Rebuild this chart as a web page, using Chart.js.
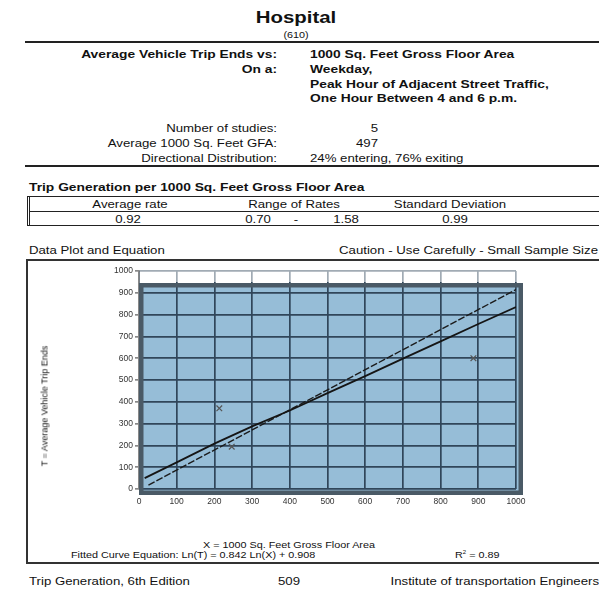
<!DOCTYPE html>
<html>
<head>
<meta charset="utf-8">
<script src="https://cdn.jsdelivr.net/npm/chart.js@4.4.0/dist/chart.umd.min.js"></script>
<style>
  html, body { margin:0; padding:0; background:#fff; }
  body { width:599px; height:597px; overflow:hidden; position:relative; font-family:"Liberation Sans", Arial, sans-serif; color:#111; }
  .t { position:absolute; white-space:nowrap; line-height:1; transform:translateY(-50%) scaleX(1.2); transform-origin:left center; }
  .b { font-weight:bold; }
  .r { text-align:right; left:0; transform-origin:right center; }
  .c { text-align:center; transform-origin:center center; }
  .hl { position:absolute; background:#222; }
  #chartWrap { position:absolute; left:29px; top:262px; width:566px; height:250px; }
</style>
</head>
<body>
<div class="t b c" style="left:96px;width:400px;top:17px;font-size:17px;">Hospital</div>
<div class="t c" style="left:96px;width:400px;top:35px;font-size:9px;">(610)</div>
<div class="hl" style="left:25px;top:41px;width:574px;height:2px;"></div>

<div class="t b r" style="width:277px;top:55px;font-size:11.5px;">Average Vehicle Trip Ends vs:</div>
<div class="t b" style="left:310px;top:55px;font-size:11.5px;">1000 Sq. Feet Gross Floor Area</div>
<div class="t b r" style="width:277px;top:70px;font-size:11.5px;">On a:</div>
<div class="t b" style="left:310px;top:70px;font-size:11.5px;">Weekday,</div>
<div class="t b" style="left:310px;top:85px;font-size:11.5px;">Peak Hour of Adjacent Street Traffic,</div>
<div class="t b" style="left:310px;top:99px;font-size:11.5px;">One Hour Between 4 and 6 p.m.</div>

<div class="t r" style="width:277px;top:128px;font-size:11px;">Number of studies:</div>
<div class="t r" style="width:378px;top:128px;font-size:11px;">5</div>
<div class="t r" style="width:277px;top:143px;font-size:11px;">Average 1000 Sq. Feet GFA:</div>
<div class="t r" style="width:378px;top:143px;font-size:11px;">497</div>
<div class="t r" style="width:277px;top:158px;font-size:11px;">Directional Distribution:</div>
<div class="t" style="left:310px;top:158px;font-size:11px;">24% entering, 76% exiting</div>
<div class="hl" style="left:25px;top:165px;width:574px;height:2px;"></div>

<div class="t b" style="left:29px;top:188px;font-size:11.5px;">Trip Generation per 1000 Sq. Feet Gross Floor Area</div>
<div style="position:absolute;left:27px;top:196px;width:580px;height:30px;border:1.5px solid #222;border-left:3px double #222;box-sizing:border-box;"></div>
<div class="hl" style="left:29px;top:211px;width:570px;height:1px;"></div>
<div class="t c" style="left:30px;width:200px;top:204px;font-size:11px;">Average rate</div>
<div class="t c" style="left:194px;width:200px;top:204px;font-size:11px;">Range of Rates</div>
<div class="t c" style="left:350px;width:200px;top:204px;font-size:11px;">Standard Deviation</div>
<div class="t c" style="left:28px;width:200px;top:219px;font-size:11px;">0.92</div>
<div class="t c" style="left:158px;width:200px;top:219px;font-size:11px;">0.70</div>
<div class="t c" style="left:196px;width:200px;top:219px;font-size:11px;">-</div>
<div class="t c" style="left:246px;width:200px;top:219px;font-size:11px;">1.58</div>
<div class="t c" style="left:355px;width:200px;top:219px;font-size:11px;">0.99</div>

<div class="t" style="left:29px;top:250px;font-size:11px;">Data Plot and Equation</div>
<div class="t r" style="width:598px;top:250px;font-size:11px;">Caution - Use Carefully - Small Sample Size</div>

<div style="position:absolute;left:26px;top:259px;width:580px;height:305px;border:2px solid #333;box-sizing:border-box;"></div>

<div id="chartWrap"><canvas id="c" width="566" height="250"></canvas></div>

<div style="position:absolute;left:45px;top:406px;font-size:9px;line-height:1;white-space:nowrap;transform:translate(-50%,-50%) rotate(-90deg);">T = Average Vehicle Trip Ends</div>
<div class="t c" style="left:189px;width:200px;top:545px;font-size:9px;">X = 1000 Sq. Feet Gross Floor Area</div>
<div class="t" style="left:71px;top:555px;font-size:9px;">Fitted Curve Equation: Ln(T) = 0.842 Ln(X) + 0.908</div>
<div class="t" style="left:455px;top:555px;font-size:9px;">R<sup style="font-size:5px;">2</sup> = 0.89</div>

<div class="t" style="left:29px;top:581px;font-size:11px;">Trip Generation, 6th Edition</div>
<div class="t c" style="left:189px;width:200px;top:581px;font-size:11px;">509</div>
<div class="t r" style="width:599px;top:581px;font-size:11px;">Institute of transportation Engineers</div>

<script>
// ---- data ----
const tickLabels = ['0','100','200','300','400','500','600','700','800','900','1000'];
const studyX = [213, 246, 887];
const studyT = [370, 194, 600];
const fitX = [15, 100, 200, 300, 400, 500, 600, 700, 800, 900, 1000];
const fitT = [50, 122, 208, 287, 360, 440, 518, 598, 677, 757, 835];
const avgX = [25, 1000];
const avgT = [18, 915];

const toPts = (xs, ys) => xs.map((x, i) => ({x: x, y: ys[i]}));

const panelPlugin = {
  id: 'panel',
  beforeDraw(chart) {
    const {ctx, chartArea: a} = chart;
    ctx.save();
    ctx.fillStyle = '#96bdd7';
    ctx.fillRect(a.left, a.top + 12, a.right - a.left + 7, a.bottom - a.top - 12 + 6);
    ctx.restore();
  },
  beforeDatasetsDraw(chart) {
    const {ctx, chartArea: a} = chart;
    ctx.save();
    ctx.fillStyle = 'rgba(255,255,255,0.55)';
    ctx.fillRect(a.left + 1, a.top - 1, a.right - a.left + 1, 12);
    ctx.strokeStyle = '#4a5a66';
    ctx.lineWidth = 4.5;
    const l = a.left, t = a.top + 12, r = a.right + 7, b = a.bottom + 6;
    ctx.strokeRect(l + 2.25, t + 2.25, r - l - 4.5, b - t - 4.5);
    ctx.restore();
  }
};

new Chart(document.getElementById('c'), {
  type: 'scatter',
  data: {
    datasets: [
      { label: 'Study sites', data: toPts(studyX, studyT), pointStyle: 'crossRot', pointRadius: 4, borderColor: '#555', borderWidth: 1.2, showLine: false },
      { label: 'Fitted curve', data: toPts(fitX, fitT), showLine: true, pointRadius: 0, borderColor: '#151515', borderWidth: 1.8, tension: 0 },
      { label: 'Average rate', data: toPts(avgX, avgT), showLine: true, pointRadius: 0, borderColor: '#1b1b1b', borderWidth: 1.4, borderDash: [7, 2] }
    ]
  },
  options: {
    responsive: false,
    animation: false,
    devicePixelRatio: 1,
    layout: { padding: { left: 0, top: 9, right: 79, bottom: 0 } },
    plugins: { legend: { display: false }, tooltip: { enabled: false } },
    scales: {
      x: {
        type: 'linear', min: 0, max: 1000,
        afterFit(s) { s.height = 23; },
        ticks: { stepSize: 100, padding: 8, color: '#333', font: { family: 'Liberation Sans', size: 8.5 },
                 callback: (v, i) => tickLabels[i] },
        grid: { color: '#30465a', lineWidth: 1.7, drawTicks: false },
        border: { display: false }
      },
      y: {
        type: 'linear', min: 0, max: 1000,
        afterFit(s) { s.width = 110; },
        ticks: { stepSize: 100, padding: 2, color: '#333', font: { family: 'Liberation Sans', size: 8.5 },
                 callback: (v, i) => tickLabels[i] },
        grid: { color: '#30465a', lineWidth: 1.7, drawTicks: true, tickLength: 4, tickColor: '#888' },
        border: { display: true, color: '#888', width: 1.5 }
      }
    }
  },
  plugins: [panelPlugin]
});
</script>
</body>
</html>
